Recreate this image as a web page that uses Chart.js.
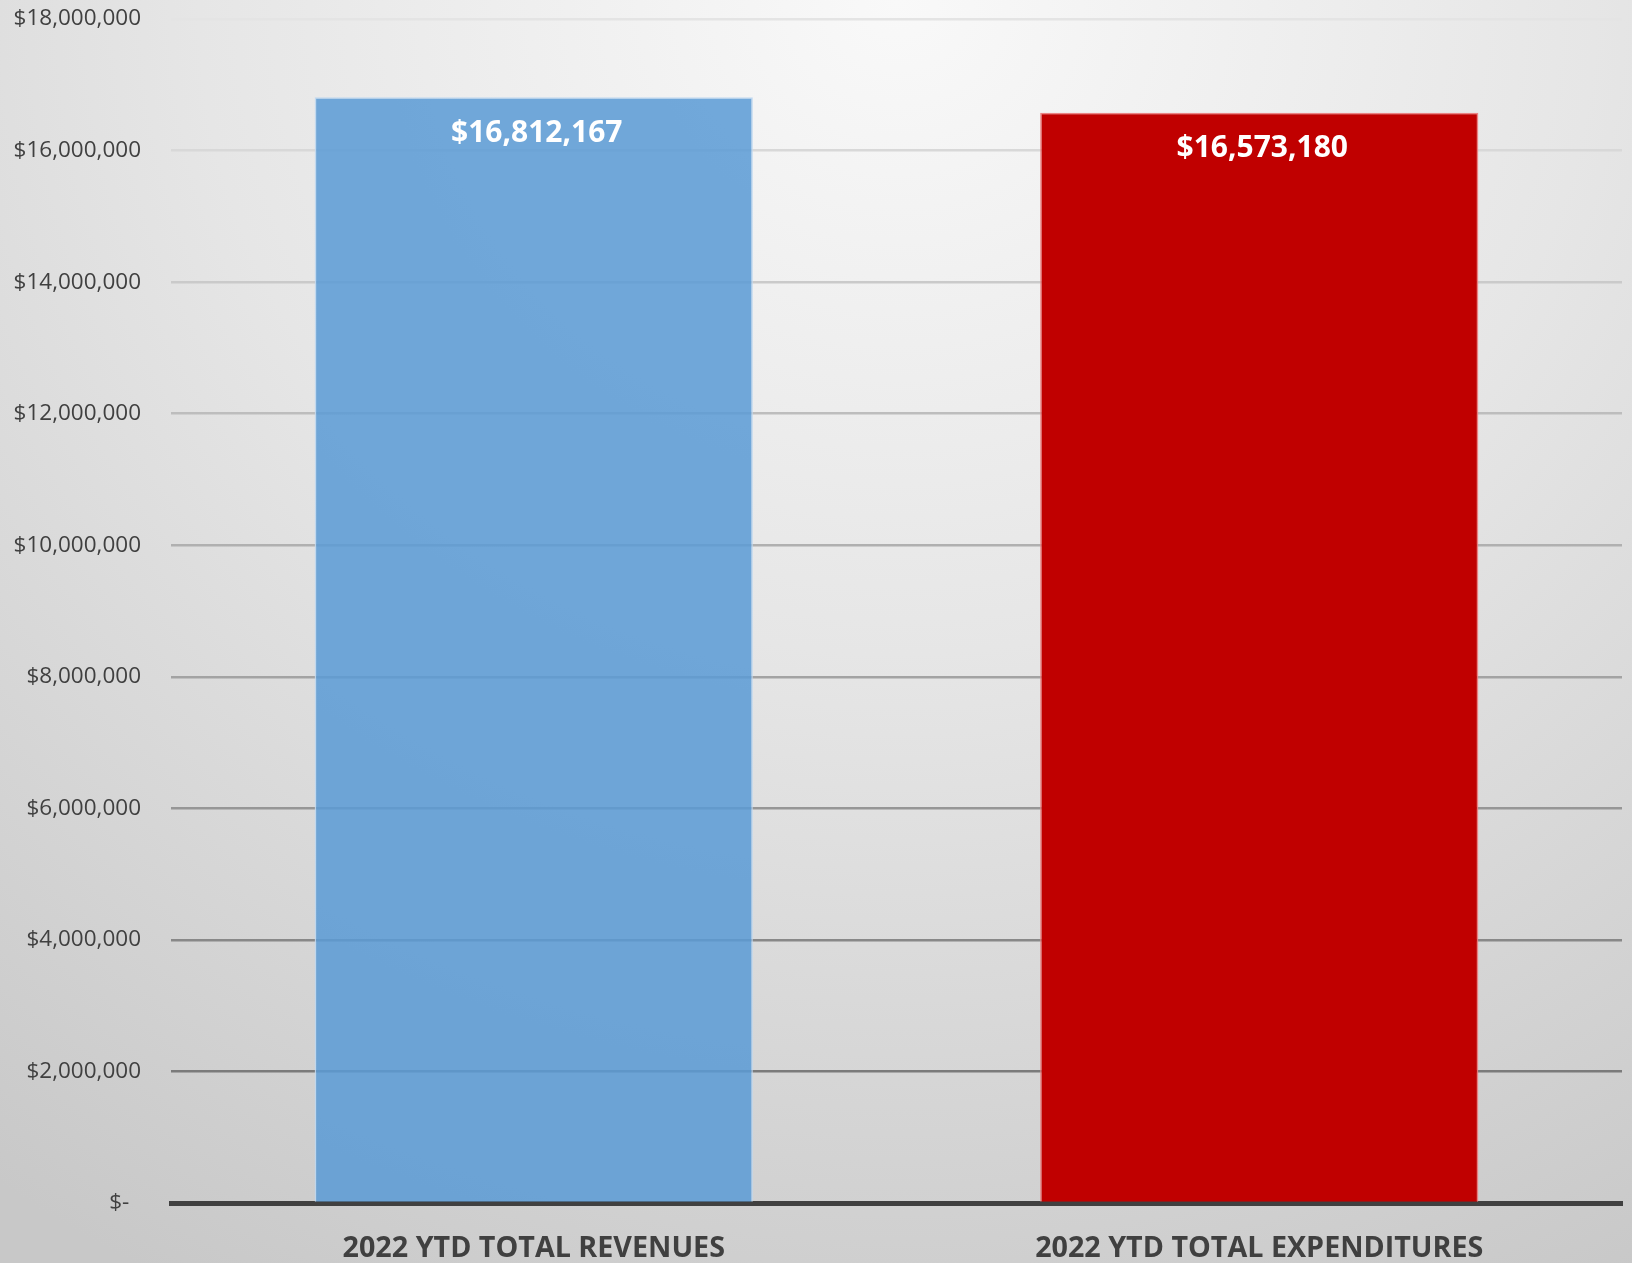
<!DOCTYPE html>
<html>
<head>
<meta charset="utf-8">
<script src="https://cdn.jsdelivr.net/npm/chart.js@4"></script>
<style>
  html, body { margin: 0; padding: 0; }
  body {
    width: 1632px; height: 1263px; overflow: hidden;
    background: radial-gradient(ellipse 95% 115% at 55% 0%, #f9f9f9 0%, #e6e6e6 45%, #c8c8c8 100%);
  }
  canvas { display: block; }
</style>
</head>
<body>
<canvas id="c" width="1632" height="1263"></canvas>
<script>
const categories = ["2022 YTD TOTAL REVENUES", "2022 YTD TOTAL EXPENDITURES"];
const values = [16812167, 16573180];
const barColors = ["rgba(91,155,213,0.86)", "#C00000"];
const barBorders = ["rgba(190,215,240,0.9)", "rgba(235,120,120,0.9)"];
const yTicks = [0, 2000000, 4000000, 6000000, 8000000, 10000000, 12000000, 14000000, 16000000, 18000000];

function money(v) {
  if (v === 0) return "$-  ";
  return "$" + v.toLocaleString("en-US");
}

function gridColor(ctx) {
  const v = ctx.tick ? ctx.tick.value : 0;
  const g = Math.round(110 + (v / 2000000) * 13.2);
  const c = Math.min(228, g);
  return `rgb(${c},${c},${c})`;
}

const valueLabels = {
  id: "valueLabels",
  afterDatasetsDraw(chart) {
    const { ctx } = chart;
    const meta = chart.getDatasetMeta(0);
    ctx.save();
    ctx.font = "bold 30px 'Open Sans'";
    ctx.fillStyle = "#ffffff";
    ctx.textAlign = "center";
    ctx.textBaseline = "middle";
    meta.data.forEach((bar, i) => {
      ctx.fillText(money(values[i]), bar.x + 3, bar.y + 36);
    });
    ctx.restore();
  }
};

new Chart(document.getElementById("c"), {
  type: "bar",
  data: {
    labels: categories,
    datasets: [{
      data: values,
      backgroundColor: barColors,
      borderColor: barBorders,
      borderWidth: 1.5,
      borderSkipped: "bottom",
      barPercentage: 0.604,
      categoryPercentage: 1.0
    }]
  },
  options: {
    responsive: false,
    animation: false,
    layout: { padding: { top: 19, right: 10, left: 0, bottom: 0 } },
    plugins: { legend: { display: false }, tooltip: { enabled: false } },
    scales: {
      x: {
        grid: { display: false, drawTicks: false },
        border: { display: true, color: "#404040", width: 5 },
        ticks: {
          padding: 29,
          color: "#404040",
          font: { family: "'Open Sans'", size: 28.7, weight: "bold" }
        },
        afterFit(scale) { scale.height = 60; scale.paddingLeft = 0; scale.paddingRight = 0; }
      },
      y: {
        min: 0,
        max: 18000000,
        afterBuildTicks(scale) { scale.ticks = yTicks.map(v => ({ value: v })); },
        grid: { color: gridColor, lineWidth: 2.5, drawTicks: false },
        border: { display: false },
        ticks: {
          padding: 30,
          color: "#404040",
          font: { family: "'Open Sans'", size: 22.5 },
          callback: (v) => money(v)
        },
        afterFit(scale) { scale.width = 171; scale.paddingTop = 0; scale.paddingBottom = 0; }
      }
    }
  },
  plugins: [valueLabels]
});
</script>
</body>
</html>
